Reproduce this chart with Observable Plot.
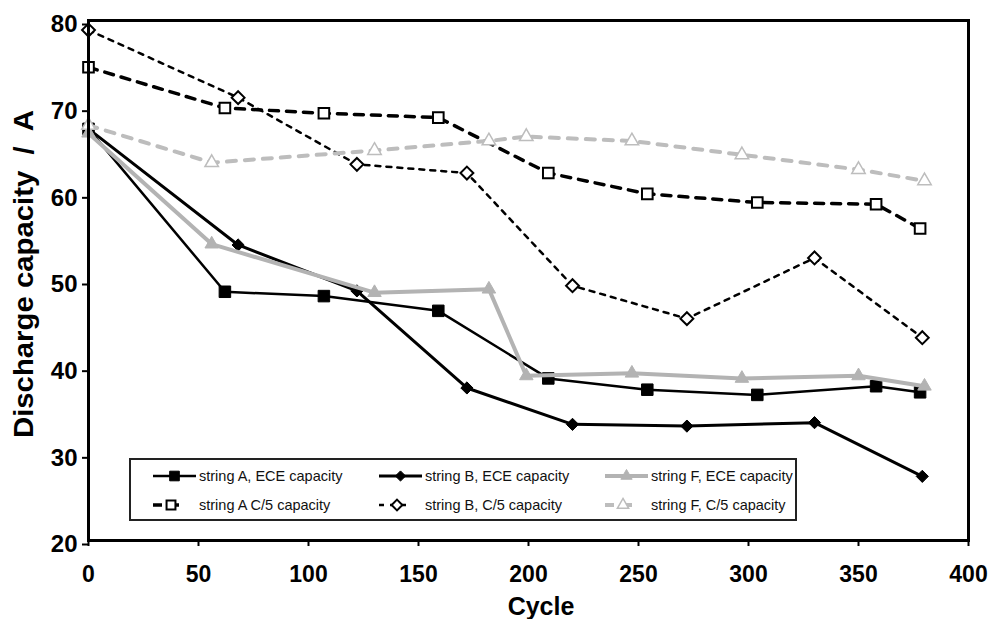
<!DOCTYPE html>
<html>
<head>
<meta charset="utf-8">
<script src="https://cdn.jsdelivr.net/npm/d3@7"></script>
<script src="https://cdn.jsdelivr.net/npm/@observablehq/plot@0.6"></script>
<style>
  body { margin: 0; background: #fff; }
  #chart { position: relative; width: 989px; height: 619px; font-family: "Liberation Sans", Arial, sans-serif; }
  #legend { position: absolute; left: 129px; top: 458px; }
</style>
</head>
<body>
<div id="chart"></div>
<script>
// Cycle numbers at which each battery string was measured
const cyclesA = [0, 62, 107, 159, 209, 254, 304, 358, 378];
const cyclesB = [0, 68, 122, 172, 220, 272, 330, 379];
const cyclesF = [0, 56, 130, 182, 199, 247, 297, 350, 380];

// Discharge capacity (A) per string, ECE test and C/5 reference test
const stringA_ECE = [67.5, 48.7, 48.2, 46.5, 38.7, 37.4, 36.8, 37.8, 37.1];
const stringB_ECE = [67.5, 54.1, 48.8, 37.6, 33.4, 33.2, 33.6, 27.4];
const stringF_ECE = [67.0, 54.2, 48.6, 49.0, 39.0, 39.3, 38.7, 39.0, 37.8];
const stringA_C5  = [74.6, 69.9, 69.3, 68.8, 62.4, 60.0, 59.0, 58.8, 56.0];
const stringB_C5  = [78.9, 71.1, 63.4, 62.4, 49.4, 45.6, 52.6, 43.4];
const stringF_C5  = [67.9, 63.6, 65.0, 66.1, 66.6, 66.1, 64.5, 62.8, 61.5];

const seriesNames = [
  "string A, ECE capacity", "string B, ECE capacity", "string F, ECE capacity",
  "string A C/5 capacity", "string B, C/5 capacity", "string F, C/5 capacity"
];
const xTicks = [0, 50, 100, 150, 200, 250, 300, 350, 400];
const yTicks = [20, 30, 40, 50, 60, 70, 80];

const seriesData = [
  [cyclesA, stringA_ECE], [cyclesB, stringB_ECE], [cyclesF, stringF_ECE],
  [cyclesA, stringA_C5], [cyclesB, stringB_C5], [cyclesF, stringF_C5]
];

// Line and marker styling for each series
const styles = [
  {stroke: "#000", width: 2.5, dash: null, symbol: "square", r: 6.5, fill: "#000", mStroke: "#000", mWidth: 1},
  {stroke: "#000", width: 3, dash: null, symbol: "diamond2", r: 5.5, fill: "#000", mStroke: "#000", mWidth: 1},
  {stroke: "#b3b3b3", width: 4, dash: null, symbol: "triangle", r: 5, fill: "#b3b3b3", mStroke: "#b3b3b3", mWidth: 1},
  {stroke: "#000", width: 3.5, dash: "9,8", symbol: "square", r: 6, fill: "#fff", mStroke: "#000", mWidth: 2},
  {stroke: "#000", width: 2.5, dash: "5,6", symbol: "diamond2", r: 5.8, fill: "#fff", mStroke: "#000", mWidth: 2},
  {stroke: "#bdbdbd", width: 4, dash: "9,9", symbol: "triangle", r: 5, fill: "#fff", mStroke: "#bdbdbd", mWidth: 1.5}
];

const rows = seriesData.map(([cycles, values], k) =>
  cycles.map((c, i) => ({series: seriesNames[k], cycle: c, value: values[i]}))
);

const marks = [];
rows.forEach((data, k) => {
  const s = styles[k];
  marks.push(Plot.line(data, {x: "cycle", y: "value", stroke: s.stroke, strokeWidth: s.width,
    strokeDasharray: s.dash, strokeLinejoin: "round"}));
  marks.push(Plot.dot(data, {x: "cycle", y: "value", symbol: () => s.symbol, r: s.r,
    fill: s.fill, stroke: s.mStroke, strokeWidth: s.mWidth}));
});

const chart = Plot.plot({
  width: 989,
  height: 619,
  marginLeft: 88,
  marginRight: 21,
  marginTop: 20,
  marginBottom: 79,
  style: {fontFamily: "'Liberation Sans', Arial, sans-serif", background: "#fff"},
  symbol: {type: "identity"},
  x: {domain: [0, 400]},
  y: {domain: [20, 80]},
  marks: [
    ...marks,
    Plot.axisX({ticks: xTicks, tickSize: 6, tickPadding: 19, fontSize: 23, fontWeight: "bold",
      label: null, tickFormat: d3.format("d"), stroke: "#000", strokeWidth: 2}),
    Plot.axisY({ticks: yTicks, tickSize: 6, tickPadding: 5, fontSize: 24, fontWeight: "bold",
      label: null, tickFormat: d3.format("d"), dy: 4, stroke: "#000", strokeWidth: 2}),
    Plot.frame({stroke: "#000", strokeWidth: 3})
  ]
});

const svg = d3.select(chart);
svg.append("text")
  .attr("transform", "translate(23,274) rotate(-90)")
  .attr("text-anchor", "middle")
  .attr("dominant-baseline", "central")
  .attr("font-size", 28)
  .attr("font-weight", "bold")
  .attr("textLength", 328)
  .attr("lengthAdjust", "spacingAndGlyphs")
  .style("white-space", "pre")
  .text("Discharge capacity  /  A");
svg.append("text")
  .attr("x", 541)
  .attr("y", 615)
  .attr("text-anchor", "middle")
  .attr("font-size", 25)
  .attr("font-weight", "bold")
  .text("Cycle");

document.getElementById("chart").appendChild(chart);

// Boxed legend inside the plot area: two rows (ECE / C/5), three columns (strings A, B, F)
const lw = 668, lh = 63;
const legend = d3.select("#chart").append("svg")
  .attr("id", "legend").attr("width", lw).attr("height", lh)
  .style("font-family", "'Liberation Sans', Arial, sans-serif");
legend.append("rect").attr("x", 1).attr("y", 1).attr("width", lw - 2).attr("height", lh - 2)
  .attr("fill", "#fff").attr("stroke", "#222").attr("stroke-width", 2);

const colX = [24, 250, 476];
const rowY = [18, 47];
const symbolTypes = {square: d3.symbolSquare, diamond2: d3.symbolDiamond2, triangle: d3.symbolTriangle};
seriesNames.forEach((name, k) => {
  const s = styles[k];
  const col = k % 3, row = Math.floor(k / 3);
  const x0 = colX[col], y = rowY[row];
  const g = legend.append("g");
  const sw = row === 0 ? 43 : 30;
  g.append("line").attr("x1", x0).attr("x2", x0 + sw).attr("y1", y).attr("y2", y)
    .attr("stroke", s.stroke).attr("stroke-width", s.width)
    .attr("stroke-dasharray", s.dash);
  const mx = row === 0 ? x0 + sw / 2 : x0 + 18;
  g.append("path")
    .attr("d", d3.symbol(symbolTypes[s.symbol], Math.PI * s.r * s.r * 0.7)())
    .attr("transform", `translate(${mx},${y})`)
    .attr("fill", s.fill).attr("stroke", s.mStroke).attr("stroke-width", s.mWidth);
  g.append("text").attr("x", x0 + 46).attr("y", y).attr("dominant-baseline", "central")
    .attr("font-size", 14.5).attr("fill", "#111").text(name);
});
</script>
</body>
</html>
